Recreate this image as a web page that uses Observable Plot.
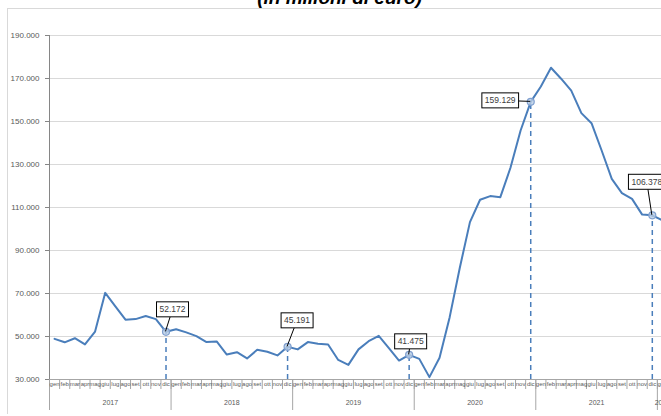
<!DOCTYPE html>
<html>
<head>
<meta charset="utf-8">
<script src="https://cdn.jsdelivr.net/npm/d3@7"></script>
<script src="https://cdn.jsdelivr.net/npm/@observablehq/plot@0.6"></script>
<style>
  html, body { margin: 0; padding: 0; background: #fff; overflow: hidden; }
  #wrap { position: relative; width: 661px; height: 416px; overflow: hidden; }
  #title { position: absolute; left: 0; top: -12px; width: 679px; text-align: center;
    font: italic bold 19px "Liberation Sans", Arial, sans-serif; line-height: 1; color: #000; }
  #border { position: absolute; left: 7px; top: 8px; right: -5px; bottom: 2px;
    border-left: 1px solid #d9d9d9; border-top: 1px solid #d9d9d9; }
  #chart { position: absolute; left: 0; top: 0; }
</style>
</head>
<body>
<div id="wrap">
  <div id="border"></div>
  <div id="title">(in milioni di euro)</div>
  <div id="chart"></div>
</div>
<script>
// ---- data ----
const months = ["gen","feb","mar","apr","mag","giu","lug","ago","set","ott","nov","dic"];
const years = [2017, 2018, 2019, 2020, 2021, 2022];
const v2017 = [48900, 47300, 49200, 46300, 52300, 70300, 64000, 57800, 58100, 59500, 58100, 52172];
const v2018 = [53400, 51900, 50200, 47400, 47700, 41600, 42700, 39800, 43800, 42900, 41200, 45191];
const v2019 = [44000, 47400, 46600, 46300, 39100, 36800, 44000, 47800, 50300, 44600, 38800, 41475];
const v2020 = [39600, 31100, 40100, 59000, 82000, 103200, 113600, 115300, 114800, 128500, 145800, 159129];
const v2021 = [166300, 175000, 169900, 164400, 153900, 149200, 136500, 123300, 116700, 114000, 106700, 106378];
const v2022 = [104000];
const yTicks = [30000, 50000, 70000, 90000, 110000, 130000, 150000, 170000, 190000];
const labelledMonth = "dic";

// ---- styles (offsets of the callout boxes, in pixels) ----
const calloutOffsets = {2017: [7, -22], 2018: [10, -26], 2019: [2, -13], 2020: [-30, -1], 2021: [-5, -33]};
const blue = "#4a7ebb";
const font = '"Liberation Sans", Arial, sans-serif';
const calloutFontSize = 8.5;

// ---- table ----
const series = [v2017, v2018, v2019, v2020, v2021, v2022];
const data = [];
series.forEach((vals, yi) => vals.forEach((v, m) => data.push({i: data.length, year: years[yi], month: months[m], v})));
const n = data.length;
const xDomain = [-0.5, n - 0.5];
const yDomain = [yTicks[0], yTicks[yTicks.length - 1]];
const marked = data.filter(d => d.month === labelledMonth);
const boundaries = d3.range(n + 1).map(i => i - 0.5);
const yearGroups = d3.groups(data, d => d.year);
const yearBoundaries = yearGroups.map(([, g]) => g[0].i - 0.5);
const yearCenters = yearGroups.map(([, g]) => d3.mean(g, d => d.i));
const yearAt = new Map(yearGroups.map(([y, g]) => [d3.mean(g, d => d.i), String(y)]));

const locale = d3.formatLocale({decimal: ",", thousands: ".", grouping: [3], currency: ["€", ""]});
const fmt = locale.format(",d");

const measureCtx = document.createElement("canvas").getContext("2d");
function textWidth(s, size) {
  measureCtx.font = `${size}px ${font}`;
  return measureCtx.measureText(s).width;
}

function callouts(index, scales) {
  const g = d3.create("svg:g");
  for (const d of marked) {
    const px = scales.x(d.i), py = scales.y(d.v);
    const [dx, dy] = calloutOffsets[d.year] || [0, -20];
    const cx = px + dx, cy = py + dy;
    const label = fmt(d.v);
    const w = textWidth(label, calloutFontSize) + 6, h = 15;
    const vx = px - cx, vy = py - cy;
    const t = Math.min(Math.abs(vx) > 1e-6 ? (w / 2) / Math.abs(vx) : Infinity,
                       Math.abs(vy) > 1e-6 ? (h / 2) / Math.abs(vy) : Infinity);
    const ex = cx + vx * t, ey = cy + vy * t;
    g.append("line").attr("x1", ex).attr("y1", ey).attr("x2", px).attr("y2", py)
      .attr("stroke", "#000").attr("stroke-width", 1);
    g.append("rect").attr("x", cx - w / 2).attr("y", cy - h / 2).attr("width", w).attr("height", h)
      .attr("fill", "#fff").attr("stroke", "#000").attr("stroke-width", 1);
    g.append("text").attr("x", cx).attr("y", cy).attr("dy", "0.35em")
      .attr("text-anchor", "middle").attr("font-size", calloutFontSize).attr("fill", "#404040")
      .attr("font-family", font).text(label);
  }
  return g.node();
}

const chart = Plot.plot({
  width: 661,
  height: 416,
  marginLeft: 49,
  marginRight: -6,
  marginTop: 35,
  marginBottom: 37,
  style: {fontFamily: font, background: "transparent", overflow: "visible"},
  x: {type: "linear", domain: xDomain, axis: null, label: null},
  y: {domain: yDomain, axis: null, label: null},
  marks: [
    Plot.gridY({ticks: yTicks, stroke: "#d9d9d9", strokeOpacity: 1, strokeWidth: 1}),
    Plot.ruleY([yDomain[0]], {stroke: "#a6a6a6"}),
    Plot.ruleX([xDomain[0]], {stroke: "#868686"}),
    Plot.axisY({ticks: yTicks, tickSize: 4, tickPadding: 6, tickFormat: fmt, fontSize: 8,
      fill: "#595959", stroke: "#868686", label: null}),
    Plot.axisX({ticks: boundaries, tickSize: 10, tickFormat: () => "", stroke: "#a6a6a6", label: null}),
    Plot.axisX({ticks: yearBoundaries, tickSize: 31, tickFormat: () => "", stroke: "#a6a6a6", label: null}),
    Plot.axisX({ticks: data.map(d => d.i), tickSize: 0, tickPadding: 2.5,
      tickFormat: i => data[i].month, fontSize: 6, fill: "#595959", label: null}),
    Plot.axisX({ticks: yearCenters, tickSize: 0, tickPadding: 21,
      tickFormat: c => yearAt.get(c), fontSize: 7, fill: "#595959", label: null}),
    Plot.ruleX(marked, {x: "i", y1: yDomain[0], y2: "v", stroke: blue, strokeWidth: 1.5, strokeDasharray: "5,4"}),
    Plot.line(data, {x: "i", y: "v", stroke: blue, strokeWidth: 2}),
    Plot.dot(marked, {x: "i", y: "v", r: 3.5, fill: "#b9cde5", fillOpacity: 0.8, stroke: "#7f9fcf", strokeWidth: 1.2}),
    callouts
  ]
});
document.getElementById("chart").appendChild(chart);
</script>
</body>
</html>
